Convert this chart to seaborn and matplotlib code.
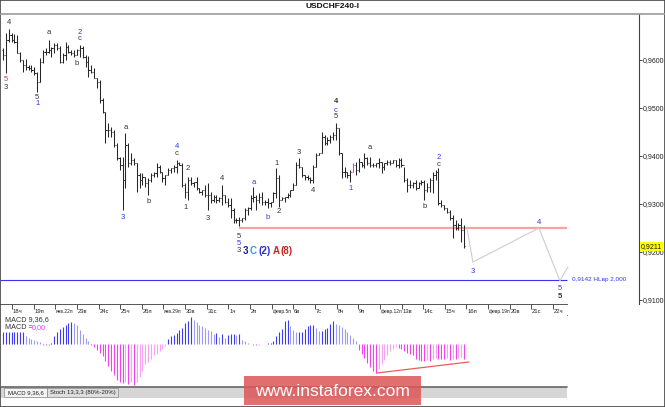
import numpy as np
import pandas as pd
import matplotlib
matplotlib.use("Agg")
import matplotlib.pyplot as plt
import seaborn as sns
from matplotlib.patches import Rectangle
from matplotlib.lines import Line2D

# ---------------- data ----------------
title = "USDCHF240-I"
date_labels = ["18ч", "19п", "янв.22п", "23в", "24с", "25ч", "26п", "янв.29п", "30в", "31с",
               "1ч", "2п", "февр.5п", "6в", "7с", "8ч", "9п", "февр.12п", "13в", "14с",
               "15ч", "16п", "февр.19п", "20в", "21с", "22ч"]

# 4H bars, prices in pips (x 0.0001)
first_open = 9620
bar_high = [9625, 9656, 9665, 9656, 9654, 9652, 9617, 9600, 9602, 9590,
            9590, 9585, 9575, 9604, 9621, 9625, 9642, 9627, 9635, 9635,
            9629, 9615, 9638, 9631, 9621, 9621, 9623, 9631, 9629, 9610,
            9608, 9590, 9583, 9562, 9558, 9521, 9492, 9469, 9460, 9454,
            9427, 9398, 9398, 9448, 9427, 9406, 9396, 9385, 9365, 9365,
            9356, 9354, 9365, 9367, 9385, 9381, 9367, 9360, 9375, 9375,
            9381, 9392, 9387, 9385, 9344, 9356, 9356, 9346, 9356, 9333,
            9329, 9340, 9344, 9325, 9319, 9319, 9315, 9340, 9319, 9312,
            9312, 9292, 9271, 9273, 9271, 9292, 9294, 9319, 9335, 9319,
            9323, 9325, 9308, 9312, 9304, 9325, 9375, 9360, 9315, 9315,
            9323, 9329, 9344, 9387, 9396, 9377, 9360, 9360, 9356, 9381,
            9406, 9406, 9450, 9444, 9440, 9444, 9450, 9469, 9458, 9406,
            9377, 9367, 9371, 9385, 9387, 9396, 9387, 9406, 9398, 9398,
            9385, 9385, 9396, 9387, 9385, 9392, 9392, 9392, 9392, 9396,
            9396, 9377, 9354, 9350, 9346, 9350, 9346, 9350, 9350, 9344,
            9354, 9367, 9371, 9375, 9308, 9298, 9292, 9288, 9277, 9267,
            9260, 9271, 9256]
bar_low = [9600, 9573, 9638, 9638, 9635, 9615, 9596, 9575, 9579, 9579,
           9575, 9569, 9533, 9554, 9594, 9610, 9615, 9606, 9615, 9621,
           9594, 9594, 9600, 9615, 9610, 9606, 9610, 9606, 9604, 9585,
           9565, 9573, 9562, 9542, 9510, 9490, 9427, 9440, 9440, 9419,
           9392, 9371, 9288, 9333, 9377, 9381, 9381, 9325, 9333, 9340,
           9335, 9319, 9346, 9356, 9356, 9365, 9346, 9340, 9360, 9365,
           9367, 9365, 9381, 9335, 9312, 9308, 9340, 9335, 9329, 9323,
           9319, 9315, 9288, 9302, 9304, 9302, 9304, 9298, 9302, 9294,
           9271, 9260, 9260, 9254, 9263, 9267, 9277, 9288, 9304, 9288,
           9302, 9298, 9298, 9292, 9294, 9304, 9312, 9294, 9308, 9304,
           9312, 9315, 9329, 9340, 9375, 9356, 9350, 9350, 9344, 9344,
           9377, 9402, 9406, 9423, 9423, 9427, 9433, 9433, 9402, 9354,
           9356, 9354, 9346, 9367, 9360, 9367, 9377, 9375, 9381, 9377,
           9377, 9377, 9375, 9365, 9371, 9381, 9381, 9385, 9377, 9375,
           9377, 9346, 9325, 9333, 9333, 9329, 9333, 9340, 9308, 9325,
           9325, 9323, 9350, 9298, 9294, 9288, 9281, 9267, 9229, 9246,
           9246, 9221, 9208]
bar_close = [9610, 9642, 9652, 9642, 9638, 9615, 9600, 9590, 9585, 9583,
             9579, 9573, 9554, 9596, 9617, 9617, 9621, 9625, 9631, 9625,
             9596, 9610, 9627, 9617, 9615, 9610, 9621, 9625, 9606, 9596,
             9579, 9575, 9562, 9554, 9517, 9492, 9454, 9454, 9450, 9423,
             9396, 9381, 9350, 9423, 9385, 9392, 9385, 9360, 9350, 9356,
             9344, 9350, 9360, 9365, 9377, 9367, 9354, 9360, 9371, 9375,
             9377, 9385, 9381, 9340, 9325, 9350, 9344, 9346, 9333, 9325,
             9329, 9319, 9319, 9308, 9315, 9308, 9312, 9319, 9304, 9298,
             9288, 9267, 9267, 9267, 9271, 9288, 9292, 9312, 9315, 9308,
             9315, 9304, 9304, 9302, 9304, 9323, 9354, 9308, 9312, 9315,
             9319, 9329, 9340, 9381, 9377, 9360, 9356, 9354, 9350, 9377,
             9402, 9406, 9440, 9427, 9433, 9440, 9444, 9458, 9406, 9367,
             9367, 9360, 9367, 9381, 9371, 9387, 9381, 9396, 9385, 9381,
             9381, 9385, 9387, 9377, 9385, 9387, 9385, 9392, 9381, 9392,
             9381, 9350, 9340, 9340, 9344, 9333, 9344, 9346, 9329, 9335,
             9350, 9360, 9367, 9302, 9298, 9292, 9283, 9271, 9256, 9250,
             9256, 9246, 9212]
marked_bar = 123

# MACD(9,36,6) histogram, units of 1e-5
macd_hist = [12, 12, 12, 12, 12, 12, 12, 12, 8, 6,
             5, 4, 3, 2, -0.5, -0.5, -0.5, 1, 8, 12,
             15, 17, 19, 21, 22, 21, 19, 14, 10, 6,
             3, -1, -3, -6, -9, -12, -17, -22, -27, -31,
             -36, -38, -39, -38, -40, -38, -41, -38, -33, -27,
             -20, -18, -15, -11, -10, -7, -5, -2, 5, 8,
             9, 11, 14, 16, 21, 23, 27, 24, 22, 19,
             18, 16, 14, 13, 10, 11, 7, 10, 6, 9,
             10, 10, 9, 10, 4, 3, 1, 0.5, -0.5, -1,
             -0.5, 0.5, 0.5, 1, 1, 3, 8, 12, 15, 23,
             24, 18, 14, 12, 12, 12, 15, 18, 19, 19,
             16, 13, 13, 15, 16, 20, 23, 20, 19, 17,
             15, 12, 9, 6, 3, -6, -10, -14, -19, -23,
             -27, -29, -25, -20, -16, -11, -7, -5, -3, -4,
             -5, -7, -9, -10, -11, -15, -16, -17, -17, -16,
             -17, -15, -14, -15, -15, -15, -14, -16, -15, -15,
             -14, -13, -15]
macd_name = "MACD 9,36,6"
macd_value_text = "0,00"

price_ticks = [0.9100, 0.9200, 0.9300, 0.9400, 0.9500, 0.9600]
support_level = 0.9250
support_start = 83
target_level = 0.9142
target_label = "0,9142 HLвр 2,000"
last_price = 0.9211

proj_x = [163.0, 165.1, 188.3, 195.7, 198.5]
proj_price = [0.9250, 0.9179, 0.9250, 0.9140, 0.9169]
div_x = [131.4, 163.7]
div_val = [-29, -18]

wave_labels = [
    (1, 0.95604, "5", "r", False), (1, 0.95417, "3", "k", False),
    (2, 0.96771, "4", "k", False), (16, 0.96563, "a", "k", False),
    (27, 0.96583, "2", "b", False), (27, 0.96458, "c", "k", False),
    (26, 0.95917, "b", "k", False), (12, 0.95229, "5", "k", False),
    (12, 0.95104, "1", "b", False), (42, 0.92729, "3", "b", False),
    (43, 0.94604, "a", "k", False), (51, 0.93042, "b", "k", False),
    (61, 0.94208, "4", "b", False), (61, 0.94042, "c", "k", False),
    (65, 0.93750, "2", "k", False), (64, 0.92917, "1", "k", False),
    (72, 0.92708, "3", "k", False), (77, 0.93521, "4", "k", False),
    (83, 0.92333, "5", "k", False), (83, 0.92167, "5", "b", False),
    (83, 0.92021, "3", "k", False), (88, 0.93438, "a", "b", False),
    (93, 0.92729, "b", "b", False), (96, 0.93854, "1", "k", False),
    (97, 0.92854, "2", "k", False), (104, 0.94063, "3", "k", False),
    (109, 0.93271, "4", "k", False), (117, 0.95125, "4", "k", True),
    (117, 0.94958, "c", "b", False), (117, 0.94813, "5", "k", False),
    (122, 0.93313, "1", "b", False), (129, 0.94167, "a", "k", False),
    (153, 0.93979, "2", "b", False), (153, 0.93813, "c", "k", False),
    (148, 0.92958, "b", "k", False),
    (165.1, 0.91604, "3", "b", False), (188.3, 0.92625, "4", "b", False),
    (195.7, 0.91250, "5", "b", False), (195.7, 0.91063, "5", "k", True),
]
degree_labels = [("3", "#1c1c9c"), ("C", "#2a9ee6"), ("(2)", "#2b2bd6"), ("A", "#cc2424"), ("(8)", "#cc2424")]
degree_offsets_px = [6, 14, 25, 37, 47]

# ---------------- style / layout ----------------
sns.set_style("white")
plt.rcParams['font.family'] = ['Liberation Sans', 'DejaVu Sans']

W, H = 665, 407
fig = plt.figure(figsize=(W / 100, H / 100), dpi=100)
fig.patch.set_facecolor("white")


def rect(x0, y0, x1, y1):
    return [x0 / W, 1 - y1 / H, (x1 - x0) / W, (y1 - y0) / H]


STEP, X0 = 2.846, 3.0


def px2idx(px):
    return (px - X0) / STEP


COL = {"k": "#333333", "b": "#3434ee", "r": "#b44848"}

n = len(bar_close)
df = pd.DataFrame({
    "i": np.arange(n),
    "high": np.array(bar_high) / 1e4,
    "low": np.array(bar_low) / 1e4,
    "close": np.array(bar_close) / 1e4,
})
df["open"] = np.r_[first_open, bar_close[:-1]] / 1e4
bar_cols = ["#262626"] * n
bar_cols[marked_bar] = "#ff33cc"

# ---- main price axes
ax = fig.add_axes(rect(0, 14, 639, 304))
ax.vlines(df["i"], df["low"], df["high"], colors=bar_cols, lw=0.75)
ax.hlines(df["open"], df["i"] - 0.42, df["i"], colors=bar_cols, lw=0.75)
ax.hlines(df["close"], df["i"], df["i"] + 0.42, colors=bar_cols, lw=0.75)

ax.hlines(support_level, support_start, px2idx(567), color="#f5a3a3", lw=1.6, zorder=1)
ax.hlines(target_level, px2idx(0), px2idx(567), color="#3535f5", lw=0.8, zorder=1)
sns.lineplot(x=proj_x, y=proj_price, sort=False, color="#cdcdcd", lw=0.8, ax=ax)

for xi, p, t, c, b in wave_labels:
    ax.text(xi, p, t, ha="center", va="center", fontsize=5.5, color=COL[c],
            fontweight="bold" if b else "normal")
for (t, c), off in zip(degree_labels, degree_offsets_px):
    ax.annotate(t, xy=(support_start, 0.92021), xytext=(off * 0.72, 0), textcoords="offset points",
                ha="center", va="center", fontsize=7, fontweight="bold", color=c)

ax.annotate(target_label, xy=(px2idx(572), target_level), ha="left", va="center",
            fontsize=4.6, color="#3535f5", annotation_clip=False)

ax.set_xlim(px2idx(0), px2idx(639))
ax.set_ylim(0.909167, 0.969583)
ax.set_xticks([])
ax.yaxis.tick_right()
ax.set_yticks(price_ticks)
ax.set_yticklabels([f"{v:.4f}".replace(".", ",") for v in price_ticks])
ax.tick_params(axis="y", direction="out", length=2, width=0.6, pad=1, labelsize=5, colors="#222222")
for s in ["top", "left", "bottom"]:
    ax.spines[s].set_visible(False)
ax.spines["right"].set_color("#444444")
ax.spines["right"].set_linewidth(0.8)
ax.annotate(f"{last_price:.4f}".replace(".", ","), xy=(1.0, last_price),
            xycoords=("axes fraction", "data"), xytext=(1.3, 0), textcoords="offset points",
            ha="left", va="center", fontsize=5, color="#111111", zorder=10, annotation_clip=False,
            bbox=dict(boxstyle="square,pad=0.18", fc="#ffff00", ec="none"))

# ---- date strip
axd = fig.add_axes(rect(0, 304, 567, 315))
axd.set_xlim(px2idx(0), px2idx(567))
axd.set_ylim(0, 1)
axd.set_xticks([]); axd.set_yticks([])
for k, lab in enumerate(date_labels):
    xp = px2idx(12 + 21.64 * k)
    axd.vlines(xp, 0.55, 1.0, color="#333333", lw=0.6)
    fs = 3.55 if "." in lab else 4.2
    axd.text(xp + 0.3, 0.35, lab, ha="left", va="center", fontsize=fs, color="#222222")
for s in ["left", "right"]:
    axd.spines[s].set_visible(False)
axd.spines["top"].set_color("#555555"); axd.spines["top"].set_linewidth(0.7)
axd.spines["bottom"].set_color("#555555"); axd.spines["bottom"].set_linewidth(0.6)

# ---- MACD panel
axm = fig.add_axes(rect(0, 315, 567, 386))
mh = np.array(macd_hist, dtype=float)
mcols = []
for j, v in enumerate(mh):
    prev = mh[j - 1] if j > 0 else v
    if v >= 0:
        mcols.append("#3c3cf5" if v >= prev else "#9c9cf7")
    else:
        mcols.append("#f542f0" if v <= prev else "#f7a3f3")
axm.vlines(np.arange(n), 0, mh * 1e-5, colors=mcols, lw=0.8)
sns.lineplot(x=div_x, y=np.array(div_val) * 1e-5, color="#ee5a5a", lw=0.9, ax=axm)
axm.set_xlim(px2idx(0), px2idx(567))
axm.set_ylim(-42e-5, 29e-5)
axm.set_xticks([]); axm.set_yticks([])
for s in ["left", "bottom", "right", "top"]:
    axm.spines[s].set_visible(False)
fig.text(5 / W, 1 - 319.5 / H, macd_name, fontsize=5.2, color="#333333", va="center")
fig.text(5 / W, 1 - 327.5 / H, "MACD =", fontsize=5.2, color="#333333", va="center")
fig.text(31.5 / W, 1 - 327.5 / H, macd_value_text, fontsize=5.2, color="#ff33ff", va="center")

# ---- tab strip, frame, title
fig.add_artist(Rectangle((0, 1 - 398 / H), 567 / W, 11.5 / H, transform=fig.transFigure,
                         fc="#d6d6d6", ec="none"))
fig.add_artist(Line2D([0, 567 / W], [1 - 386.6 / H] * 2, transform=fig.transFigure, color="#666666", lw=1.2))
fig.add_artist(Rectangle((4 / W, 1 - 397 / H), 43 / W, 9 / H, transform=fig.transFigure,
                         fc="#f4f4f4", ec="#8a8a8a", lw=0.5))
fig.add_artist(Rectangle((47 / W, 1 - 397 / H), 71 / W, 9 / H, transform=fig.transFigure,
                         fc="#dedede", ec="#8a8a8a", lw=0.5))
fig.text(25.5 / W, 1 - 392.5 / H, "MACD 9,36,6", fontsize=4.3, ha="center", va="center", color="#222222")
fig.text(82.5 / W, 1 - 392.5 / H, "Stoch 13,3,3 (80%-20%)", fontsize=4.3, ha="center", va="center", color="#222222")

fig.text(332 / W, 1 - 7 / H, title, ha="center", va="center", fontsize=6, fontweight="bold", color="#111111")
fig.add_artist(Line2D([0, 1], [1 - 13.5 / H] * 2, transform=fig.transFigure, color="#9a9a9a", lw=1.2))
fig.add_artist(Rectangle((0, 0), 1, 1, transform=fig.transFigure, fill=False, ec="#444444", lw=1.2))

# ---- watermark
fig.add_artist(Rectangle((244 / W, 1 - 405 / H), 177 / W, 29 / H, transform=fig.transFigure,
                         fc="#dc5656", ec="none", alpha=0.85, zorder=20))
fig.text(332.5 / W, 1 - 391 / H, "www.instaforex.com", ha="center", va="center", fontsize=12.5,
         color="white", zorder=21)

fig.savefig("out.png", dpi=100)
